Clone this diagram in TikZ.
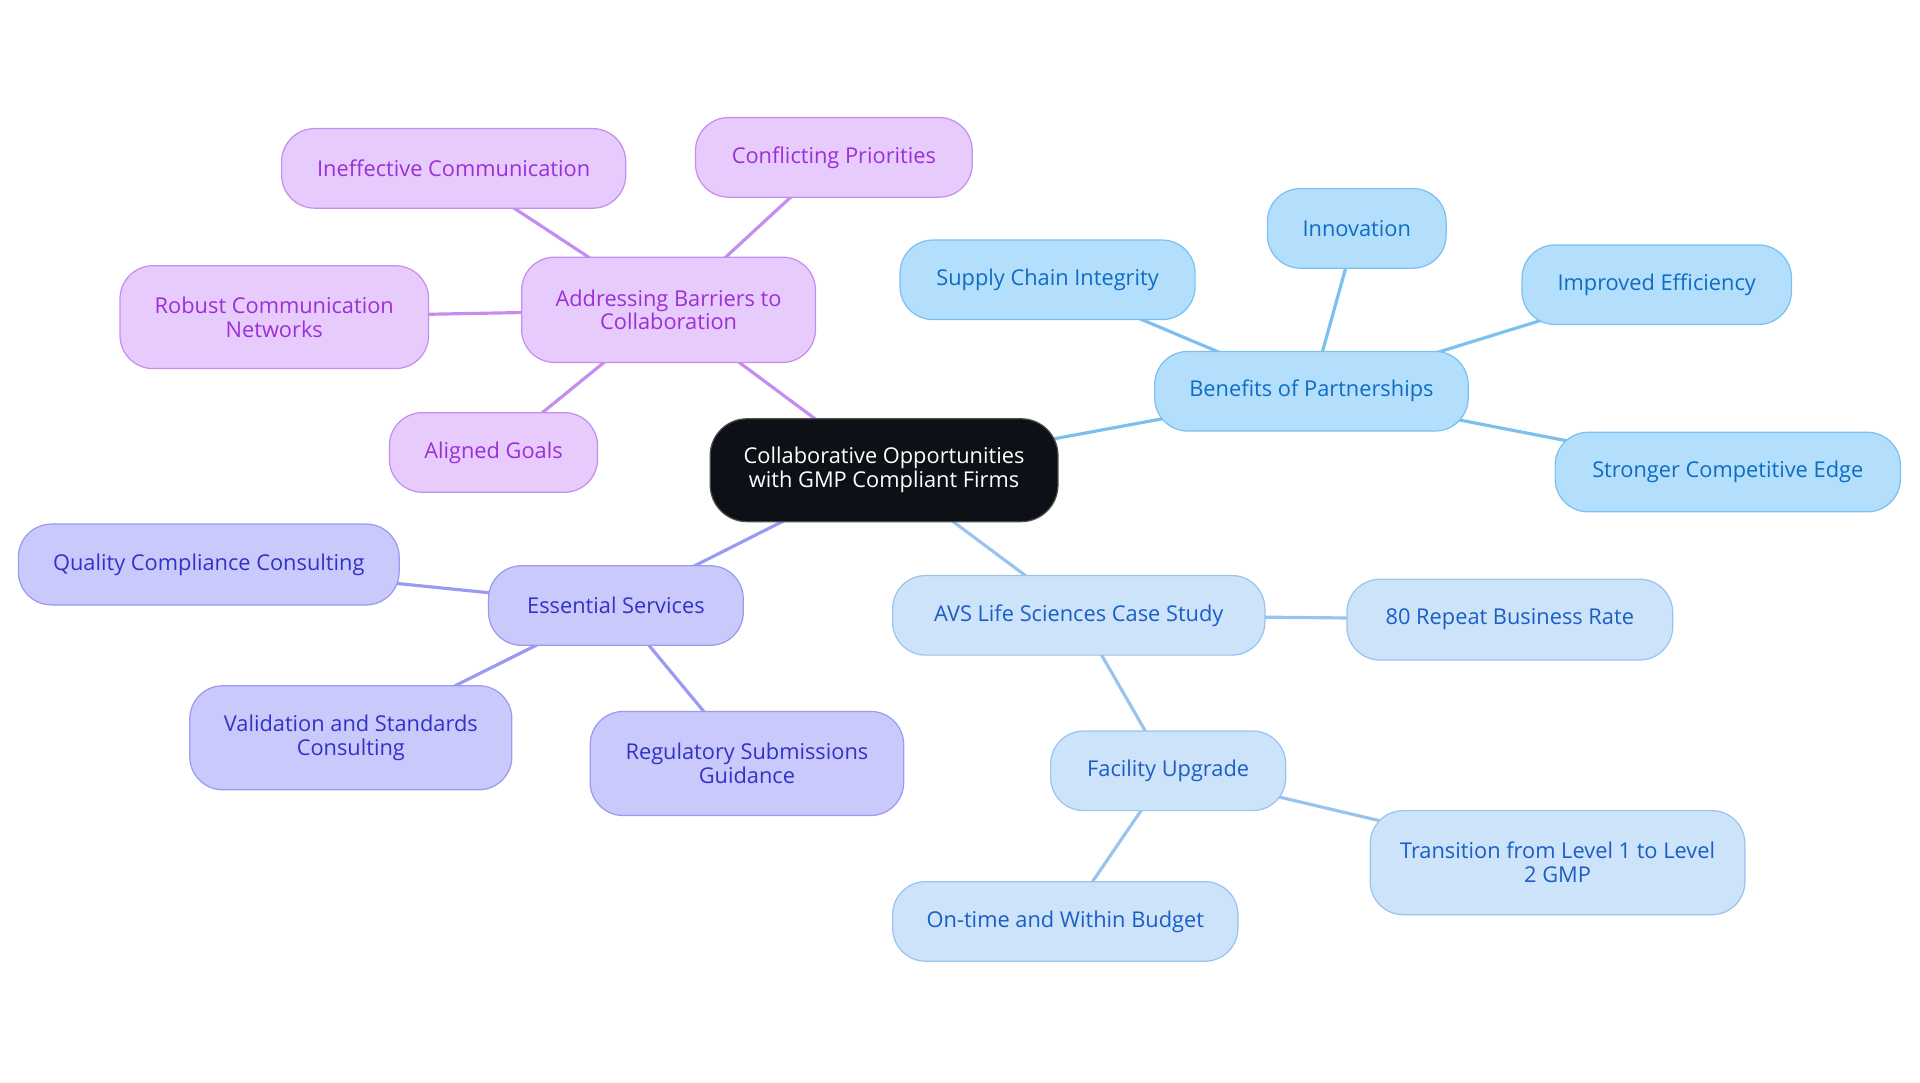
\documentclass[tikz,border=0pt]{standalone}
\usepackage{fontspec}
\setmainfont{Open Sans}
\usetikzlibrary{backgrounds}
\definecolor{pfill}{HTML}{E8CBFD}
\definecolor{pdraw}{HTML}{C58EEE}
\definecolor{ptext}{HTML}{9B2FD8}
\definecolor{bfill}{HTML}{B3DFFC}
\definecolor{bdraw}{HTML}{7CC0F0}
\definecolor{btext}{HTML}{0F6CC2}
\definecolor{ifill}{HTML}{C9C9FC}
\definecolor{idraw}{HTML}{9A9AF0}
\definecolor{itext}{HTML}{3232C8}
\definecolor{lfill}{HTML}{CDE3FA}
\definecolor{ldraw}{HTML}{99C4F0}
\definecolor{ltext}{HTML}{1A5EC6}
\definecolor{cfill}{HTML}{0D1117}
\tikzset{
  box/.style={rounded corners=27pt, line width=1pt, align=center, inner sep=0pt,
    font=\fontsize{17.8}{19.5}\selectfont},
  pbox/.style={box, fill=pfill, draw=pdraw, text=ptext},
  bbox/.style={box, fill=bfill, draw=bdraw, text=btext},
  ibox/.style={box, fill=ifill, draw=idraw, text=itext},
  lbox/.style={box, fill=lfill, draw=ldraw, text=ltext},
  cbox/.style={box, rounded corners=30pt, fill=cfill, draw=black!70, text=white},
  sz/.style 2 args={minimum width=#1pt, minimum height=#2pt},
  pe/.style={draw=pdraw, line width=2.6pt},
  be/.style={draw=bdraw, line width=2.6pt},
  ie/.style={draw=idraw, line width=2.6pt},
  le/.style={draw=ldraw, line width=2.6pt},
}
\begin{document}
\begin{tikzpicture}[x=1pt, y=-1pt]
\useasboundingbox (0,0) rectangle (1568,884.4);
\node[cbox, sz={284}{84}] (c) at (722,384) {Collaborative Opportunities\\with GMP Compliant Firms};
% purple
\node[pbox, sz={240}{86}] (barr) at (546,253) {Addressing Barriers to\\Collaboration};
\node[pbox, sz={281}{65}] (ineff) at (370.5,137.5) {Ineffective Communication};
\node[pbox, sz={226}{65}] (confl) at (681,128.5) {Conflicting Priorities};
\node[pbox, sz={252}{84}] (robust) at (224,259) {Robust Communication\\Networks};
\node[pbox, sz={170}{65}] (aligned) at (403,369.5) {Aligned Goals};
% blue
\node[bbox, sz={256}{65}] (benef) at (1071,319.5) {Benefits of Partnerships};
\node[bbox, sz={241}{65}] (supply) at (855.5,228.5) {Supply Chain Integrity};
\node[bbox, sz={146}{65}] (innov) at (1108,186.5) {Innovation};
\node[bbox, sz={220}{65}] (improved) at (1353,232.5) {Improved Efficiency};
\node[bbox, sz={282}{65}] (stronger) at (1411,385.5) {Stronger Competitive Edge};
% indigo
\node[ibox, sz={208}{65}] (ess) at (503,494.5) {Essential Services};
\node[ibox, sz={311}{66}] (quality) at (170.5,461) {Quality Compliance Consulting};
\node[ibox, sz={263}{85}] (valid) at (286.5,602.5) {Validation and Standards\\Consulting};
\node[ibox, sz={256}{85}] (reg) at (610,623.5) {Regulatory Submissions\\Guidance};
% light blue
\node[lbox, sz={304}{65}] (avs) at (881,502.5) {AVS Life Sciences Case Study};
\node[lbox, sz={266}{66}] (eighty) at (1233,506) {80 Repeat Business Rate};
\node[lbox, sz={192}{65}] (fac) at (954,629.5) {Facility Upgrade};
\node[lbox, sz={306}{85}] (trans) at (1272,704.5) {Transition from Level 1 to Level\\2 GMP};
\node[lbox, sz={282}{65}] (ontime) at (870,752.5) {On-time and Within Budget};
\begin{scope}[on background layer]
\draw[pe] (c.center) -- (barr.center);
\draw[pe] (barr.center) -- (ineff.center);
\draw[pe] (barr.center) -- (confl.center);
\draw[pe] (barr.center) -- (robust.center);
\draw[pe] (barr.center) -- (aligned.center);
\draw[be] (c.center) -- (benef.center);
\draw[be] (benef.center) -- (supply.center);
\draw[be] (benef.center) -- (innov.center);
\draw[be] (benef.center) -- (improved.center);
\draw[be] (benef.center) -- (stronger.center);
\draw[ie] (c.center) -- (ess.center);
\draw[ie] (ess.center) -- (quality.center);
\draw[ie] (ess.center) -- (valid.center);
\draw[ie] (ess.center) -- (reg.center);
\draw[le] (c.center) -- (avs.center);
\draw[le] (avs.center) -- (eighty.center);
\draw[le] (avs.center) -- (fac.center);
\draw[le] (fac.center) -- (trans.center);
\draw[le] (fac.center) -- (ontime.center);
\end{scope}
\end{tikzpicture}
\end{document}
